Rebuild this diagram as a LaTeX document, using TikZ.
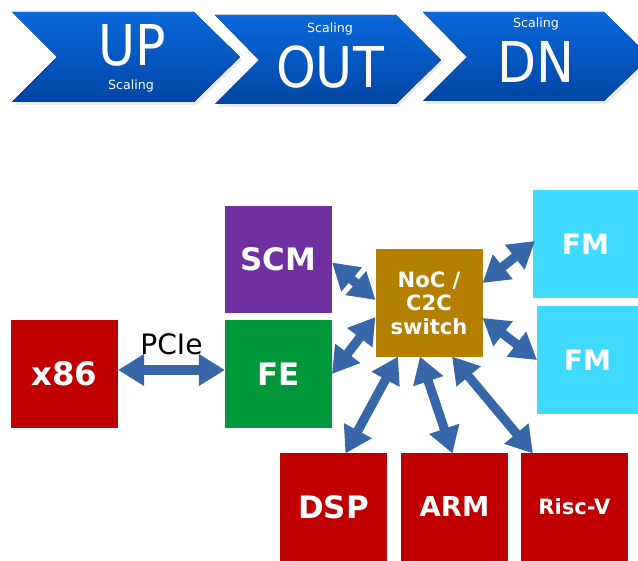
\documentclass[tikz,border=0pt]{standalone}
\usepackage{fontspec}
\setmainfont{DejaVu Sans}
\newfontfamily\bigfont{DejaVu Sans Condensed}
\usetikzlibrary{arrows.meta,positioning,calc}
\definecolor{scalTop}{HTML}{0A68DA}
\definecolor{scalBot}{HTML}{0046A4}
\definecolor{linkBlue}{HTML}{3767A9}
\definecolor{chipRed}{HTML}{C00000}
\definecolor{chipPurple}{HTML}{7030A0}
\definecolor{chipGreen}{HTML}{00983A}
\definecolor{chipGold}{HTML}{B58000}
\definecolor{chipCyan}{HTML}{40DAFF}

\begin{document}
\begin{tikzpicture}[x=0.25mm,y=-0.25mm,font=\footnotesize,
    chev/.style={top color=scalTop,bottom color=scalBot,draw=none},
    chevshadow/.style={fill=black,opacity=0.08,draw=none},
    bigword/.style={font=\bigfont\fontsize{40}{40}\selectfont,text=white,inner sep=0pt},
    smallword/.style={font=\fontsize{9}{10}\selectfont,text=white,inner sep=0pt},
    chip/.style={minimum width=26.75mm,minimum height=26.75mm,inner sep=0pt,
                 outer sep=0pt,text=white,align=center,
                 font=\bfseries\fontsize{22}{24}\selectfont},
    link/.style={{Triangle[length=6.5mm,width=7.5mm]}-{Triangle[length=6.5mm,width=7.5mm]},
                 line width=2.3mm,draw=linkBlue}]
  \useasboundingbox (0,0) rectangle (638,561);
  \clip (0,0) rectangle (638,561);

  \fill[chevshadow] (14,15) -- (196,15) -- (242,60) -- (196,105) -- (14,105) -- (59,60) -- cycle;
  \fill[chevshadow] (217,18) -- (398,18) -- (443,63) -- (398,107) -- (217,107) -- (261,63) -- cycle;
  \fill[chevshadow] (425,15) -- (606,15) -- (652,60) -- (606,104) -- (425,104) -- (469,60) -- cycle;
  \fill[chev] (12,12) -- (194,12) -- (240,57) -- (194,102) -- (12,102) -- (57,57) -- cycle;
  \fill[chev] (215,15) -- (396,15) -- (441,60) -- (396,104) -- (215,104) -- (259,60) -- cycle;
  \fill[chev] (423,12) -- (604,12) -- (650,57) -- (604,101) -- (423,101) -- (467,57) -- cycle;

  \node[bigword] (up) at (132,45) {UP};
  \node[smallword] (upsc) at (131,86) {Scaling};
  \node[bigword] (out) at (330,67) {OUT};
  \node[smallword] (outsc) at (330,29) {Scaling};
  \node[bigword] (dn) at (536,62) {DN};
  \node[smallword] (dnsc) at (536,24) {Scaling};

  \node[chip,fill=chipRed,font=\bfseries\fontsize{23}{24}\selectfont] (x86) at (64.5,374) {x86};
  \node[chip,fill=chipPurple] (scm) at (278.5,259.5) {SCM};
  \node[chip,fill=chipGreen] (fe) at (278.5,374) {FE};
  \node[chip,fill=chipGold,font=\bfseries\fontsize{15}{16.8}\selectfont] (noc) at (429,303) {NoC /\\C2C\\switch};
  \node[chip,fill=chipCyan,minimum width=26.25mm,font=\bfseries\fontsize{20}{24}\selectfont] (fm1) at (585.5,244) {FM};
  \node[chip,fill=chipCyan,minimum width=25.25mm,font=\bfseries\fontsize{20}{24}\selectfont] (fm2) at (587.5,360) {FM};
  \node[chip,fill=chipRed] (dsp) at (333.5,507) {DSP};
  \node[chip,fill=chipRed,font=\bfseries\fontsize{19.5}{24}\selectfont] (arm) at (454.5,507) {ARM};
  \node[chip,fill=chipRed,font=\bfseries\fontsize{15}{24}\selectfont] (risc) at (574.5,507) {Risc-V};

  \draw[link] ($(x86.east)+(0,-4)$) -- node[above=4pt,text=black,font=\fontsize{20}{22}\selectfont] (pcie) {PCIe} ($(fe.west)+(0,-4)$);
  \draw[link] ($(scm.east)+(0,3)$) -- ($(noc.west)+(0,-3)$);
  \draw[link] (fe.east) -- ($(noc.west)+(0,14)$);
  \draw[link] ($(noc.east)+(0,-20)$) -- ($(fm1.west)+(2,-3)$);
  \draw[link] ($(noc.east)+(0,15)$) -- (fm2.west);
  \draw[link] ($(noc.south)+(-31,0)$) -- ($(dsp.north)+(12,0)$);
  \draw[link] ($(noc.south)+(-9,0)$) -- ($(arm.north)+(-2,0)$);
  \draw[link] ($(noc.south)+(23,0)$) -- ($(risc.north west)+(12,0)$);
\end{tikzpicture}
\end{document}
